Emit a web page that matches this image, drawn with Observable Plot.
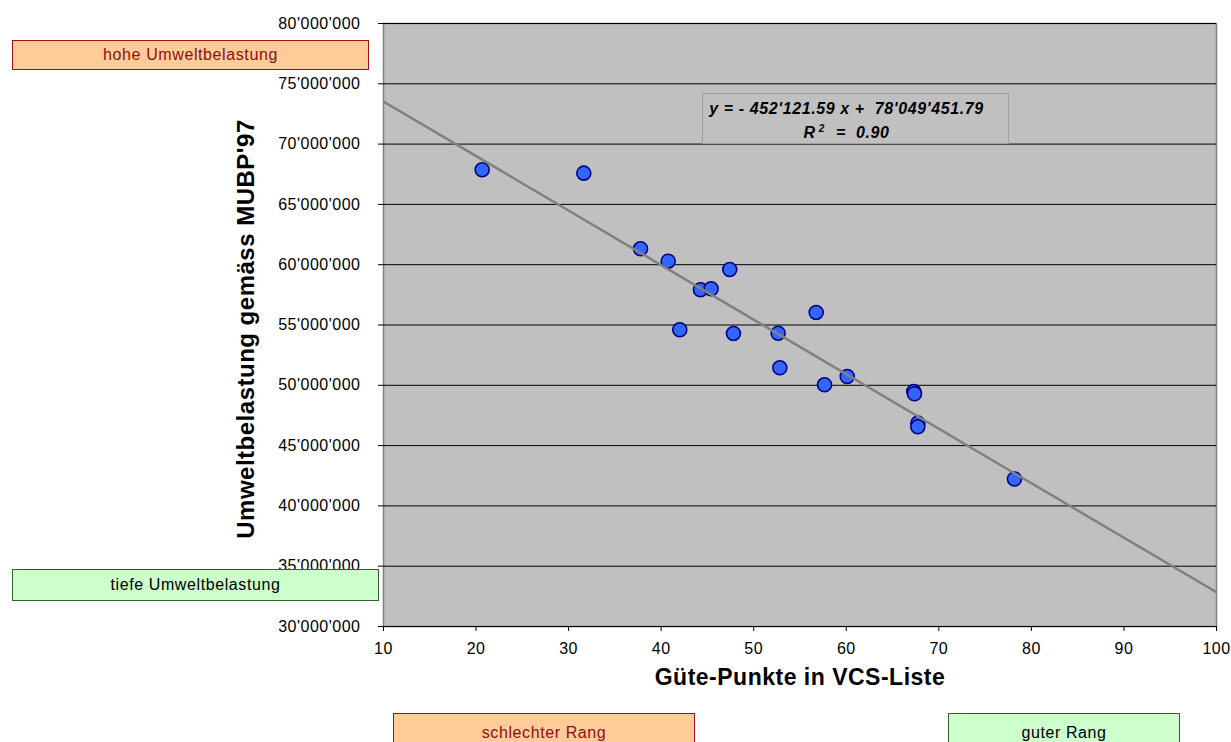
<!DOCTYPE html>
<html>
<head>
<meta charset="utf-8">
<script src="https://cdn.jsdelivr.net/npm/d3@7"></script>
<script src="https://cdn.jsdelivr.net/npm/@observablehq/plot@0.6"></script>
<style>
  html, body { margin: 0; padding: 0; background: #fff; }
  #wrap { position: relative; width: 1231px; height: 742px; overflow: hidden; font-family: "Liberation Sans", Arial, sans-serif; }
  #wrap svg text { letter-spacing: 0.5px; }
  .box { position: absolute; box-sizing: border-box; text-align: center; font-size: 16px; letter-spacing: 0.6px; }
  .bad { background: #ffcc99; border: 1px solid #a01010; color: #8b1010; }
  .good { background: #ccffcc; border: 1px solid #2f5f2f; color: #000; }
  .eq { position: absolute; box-sizing: border-box; background: #c0c0c0; border: 1px solid #a0a0a0;
        font-weight: bold; font-style: italic; font-size: 16px; letter-spacing: 0.6px; text-align: center; line-height: 20px; padding-top: 5px; padding-right: 18px; }
  .eq sup { font-size: 10px; vertical-align: 6px; margin-left: 3px; margin-right: 6px; }
</style>
</head>
<body>
<div id="wrap"></div>
<script>
// Güte-Punkte in VCS-Liste
const guete = [20.66, 31.64, 37.77, 40.76, 47.41, 44.25, 45.40, 42.01, 47.81, 52.64, 56.75, 52.82, 57.65, 60.10, 67.29, 67.37, 67.73, 67.73, 78.17];
// Umweltbelastung gemäss MUBP'97
const mubp = [67870000, 67590000, 61320000, 60290000, 59600000, 57920000, 58000000, 54600000, 54300000, 54320000, 56040000, 51450000, 50040000, 50730000, 49490000, 49300000, 46860000, 46560000, 42230000];
// trend line coefficients (from the chart's equation)
const slope = -452121.59;
const intercept = 78049451.79;
const rSquared = 0.90;
const xDomain = [10, 100];
const yDomain = [30000000, 80000000];
const xTicks = [10, 20, 30, 40, 50, 60, 70, 80, 90, 100];
const yTicks = [30000000, 35000000, 40000000, 45000000, 50000000, 55000000, 60000000, 65000000, 70000000, 75000000, 80000000];

const points = guete.map((g, i) => ({x: g, y: mubp[i]}));
const trend = xDomain.map(x => ({x, y: slope * x + intercept}));
const fmt = v => d3.format(",")(v).replace(/,/g, "'");
const fmt2 = v => { const [a, b] = Math.abs(v).toFixed(2).split("."); return fmt(+a) + "." + b; };

const chart = Plot.plot({
  width: 1231,
  height: 742,
  marginLeft: 383,
  marginRight: 15,
  marginTop: 23,
  marginBottom: 116,
  style: {fontFamily: '"Liberation Sans", Arial, sans-serif', fontSize: "16px", color: "#000", background: "transparent", overflow: "visible"},
  x: {domain: xDomain},
  y: {domain: yDomain},
  marks: [
    Plot.frame({fill: "#c0c0c0", stroke: "#808080", strokeWidth: 1.5}),
    Plot.ruleY(yTicks, {stroke: "#000", strokeWidth: 1}),
    Plot.dot(points, {x: "x", y: "y", r: 7, fill: "#3366ff", stroke: "#000080", strokeWidth: 1.6}),
    Plot.line(trend, {x: "x", y: "y", stroke: "#808080", strokeWidth: 2.5, clip: true}),
    Plot.axisY({ticks: yTicks, tickFormat: fmt, tickSize: 5, tickPadding: 18, label: null, fontSize: 16}),
    Plot.axisX({ticks: xTicks, tickSize: 5, tickPadding: 11, label: null, fontSize: 16}),
    Plot.text(["Umweltbelastung gemäss MUBP'97"], {frameAnchor: "left", textAnchor: "middle", dx: -137, dy: 4, rotate: -90, text: d => d, fontWeight: "bold", fontSize: 24}),
    Plot.text(["Güte-Punkte in VCS-Liste"], {frameAnchor: "bottom", dy: 58, text: d => d, fontWeight: "bold", fontSize: 23})
  ]
});

const wrap = document.getElementById("wrap");
wrap.appendChild(chart);
chart.style.position = "absolute";
chart.style.left = "0px";
chart.style.top = "0px";

function addBox(cls, text, left, top, width, height, lh) {
  const d = document.createElement("div");
  d.className = "box " + cls;
  d.style.left = left + "px";
  d.style.top = top + "px";
  d.style.width = width + "px";
  d.style.height = height + "px";
  d.style.lineHeight = lh + "px";
  d.textContent = text;
  wrap.appendChild(d);
}
addBox("bad", "hohe Umweltbelastung", 12, 40, 357, 30, 28);
addBox("good", "tiefe Umweltbelastung", 12, 569, 367, 32, 30);
addBox("bad", "schlechter Rang", 393, 713, 302, 40, 38);
addBox("good", "guter Rang", 948, 713, 232, 40, 38);

const eq = document.createElement("div");
eq.className = "eq";
eq.style.left = "702px";
eq.style.top = "93px";
eq.style.width = "307px";
eq.style.height = "51px";
eq.innerHTML = "y = - " + fmt2(slope) + " x +&nbsp; " + fmt2(intercept) + "<br>R<sup>2</sup> =&nbsp; " + rSquared.toFixed(2);
wrap.appendChild(eq);
</script>
</body>
</html>
